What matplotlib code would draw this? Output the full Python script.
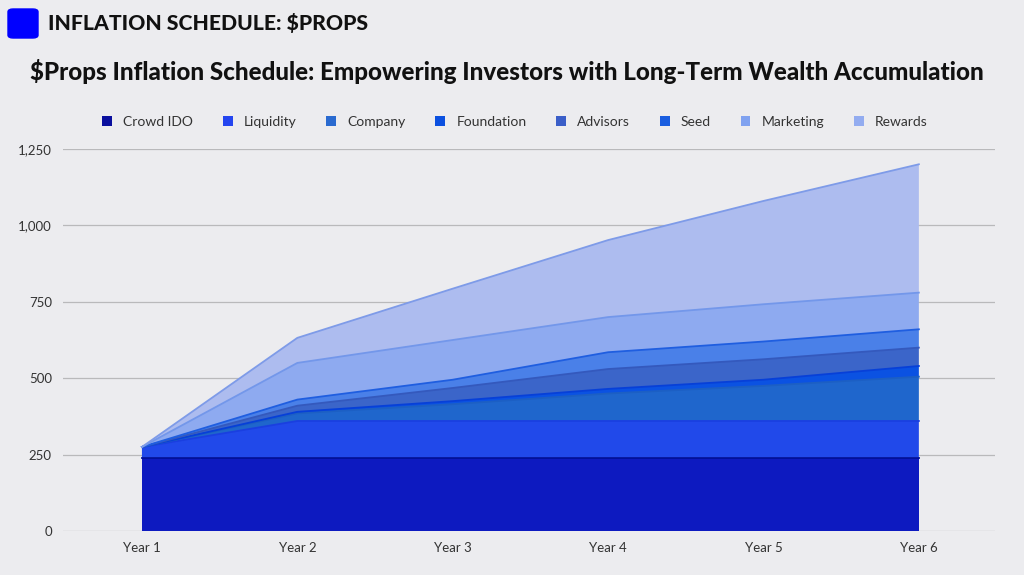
import numpy as np
import matplotlib.pyplot as plt
from matplotlib.patches import FancyBboxPatch, Patch
from matplotlib.ticker import FuncFormatter

plt.rcParams['font.family'] = ['Lato', 'DejaVu Sans']

# data
years = ['Year 1', 'Year 2', 'Year 3', 'Year 4', 'Year 5', 'Year 6']
crowd_ido  = [240, 240, 240, 240, 240, 240]
liquidity  = [35, 120, 120, 120, 120, 120]
company    = [0, 25, 55, 90, 115, 145]
foundation = [0, 5, 10, 15, 20, 35]
advisors   = [0, 20, 43, 65, 67, 60]
seed       = [0, 20, 27, 55, 58, 60]
marketing  = [0, 120, 130, 115, 122, 120]
rewards    = [0, 82, 168, 252, 338, 420]

names = ['Crowd IDO', 'Liquidity', 'Company', 'Foundation',
         'Advisors', 'Seed', 'Marketing', 'Rewards']
series = [crowd_ido, liquidity, company, foundation, advisors, seed, marketing, rewards]

fill_colors = ['#0d1ac0', '#2149ea', '#1f66cc', '#0b52e2',
               '#3b65c9', '#4a80e8', '#8eaaf0', '#adbcef']
edge_colors = ['#00109a', '#1a3fe0', '#1c5fc4', '#0740d8',
               '#3459bd', '#1f5ee0', '#7397ea', '#7e9be8']
legend_colors = ['#0a0f9e', '#2445f0', '#2a6ad0', '#0b50e0',
                 '#3a5ec8', '#1a5ee0', '#80a2f0', '#93acf0']

bg = '#ececef'
fig = plt.figure(figsize=(10.24, 5.75), dpi=100, facecolor=bg)

# header block
fig.patches.append(FancyBboxPatch((8 / 1024, 1 - 38 / 575), 30 / 1024, 29 / 575,
                                  boxstyle='round,pad=0,rounding_size=0.005',
                                  transform=fig.transFigure, color='#0000ff'))
fig.text(48 / 1024, 1 - 23 / 575, 'INFLATION SCHEDULE: $PROPS', fontsize=15.2,
         fontweight='black', va='center', ha='left', color='#111111')
fig.text(507 / 1024, 1 - 72 / 575,
         '$Props Inflation Schedule: Empowering Investors with Long-Term Wealth Accumulation',
         fontsize=17.4, fontweight='black', va='center', ha='center', color='#111111')

ax = fig.add_axes([63 / 1024, 44 / 575, 932 / 1024, 382 / 575])
ax.set_facecolor('none')

x = np.arange(len(years))
ax.stackplot(x, *series, colors=fill_colors, linewidth=0)
tops = np.cumsum(np.array(series), axis=0)
for top, c in zip(tops, edge_colors):
    ax.plot(x, top, color=c, lw=1.3)

ax.set_xlim(-0.508, 5.49)
ax.set_ylim(0, 1250)
ax.set_yticks([0, 250, 500, 750, 1000, 1250])
ax.yaxis.set_major_formatter(FuncFormatter(lambda v, p: f'{int(v):,}'))
ax.set_xticks(x)
ax.set_xticklabels(years)
ax.grid(axis='y', color='#b9b9bb', lw=0.9)
ax.set_axisbelow(True)
for s in ax.spines.values():
    s.set_visible(False)
ax.tick_params(length=0, labelsize=9.5, labelcolor='#333333')
ax.tick_params(axis='x', pad=8)
ax.tick_params(axis='y', pad=8)

handles = [Patch(facecolor=c, edgecolor='none') for c in legend_colors]
fig.legend(handles, names, loc='center', bbox_to_anchor=(515 / 1024, 1 - 122 / 575),
           ncol=8, frameon=False, fontsize=10, handlelength=0.7, handleheight=0.7,
           handletextpad=0.8, columnspacing=2.15, labelcolor='#333333')

fig.savefig('out.png', dpi=100, facecolor=bg)
